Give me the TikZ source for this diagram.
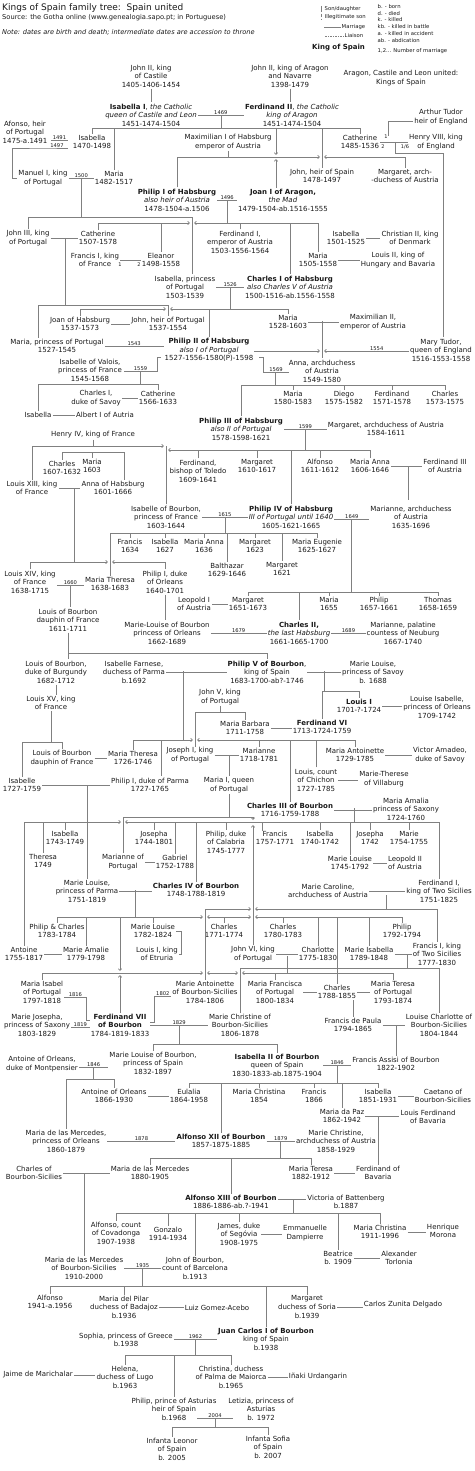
\documentclass[tikz,border=0pt]{standalone}
\usepackage{fontspec}
\setmainfont{DejaVu Sans}
\usetikzlibrary{arrows.meta}

\tikzset{
  ln/.style={draw=black!50, line width=0.7pt},
  xr/.style={ln, -{Straight Barb[length=1.8pt,width=3.4pt]}},
  bx/.style={ln, {Straight Barb[length=1.8pt,width=3.4pt]}-{Straight Barb[length=1.8pt,width=3.4pt]}},
  yr/.style={font=\fontsize{5.2}{6}\selectfont, inner sep=0.4pt, above},
  nr/.style={font=\fontsize{5}{6}\selectfont, inner sep=0pt},
  lg/.style={font=\fontsize{5.3}{6}\selectfont, anchor=west, inner sep=0.5pt},
}

\begin{document}
\begin{tikzpicture}[x=1pt, y=-1pt,
    every node/.style={font=\fontsize{7}{8.6}\selectfont, align=center, inner sep=1pt, text=black!90}]
  \useasboundingbox (0,0) rectangle (474,1471);

  % --- header and legend ---
  \node[anchor=west, font=\fontsize{9}{10}\selectfont] (title) at (1,8) {Kings of Spain family tree:\ \ Spain united};
  \node[anchor=west, font=\fontsize{6.7}{8}\selectfont] (source) at (1,18) {Source: the Gotha online (www.genealogia.sapo.pt; in Portuguese)};
  \node[anchor=west, font=\fontsize{6.6}{8}\selectfont\itshape] (note) at (1,32) {Note: dates are birth and death; intermediate dates are accession to throne};
  \node[lg] (lson) at (324,9) {Son/daughter};
  \draw[ln] (321,6) -- (321,12);
  \node[lg] (lill) at (324,17) {Illegitimate son};
  \draw[ln, densely dashed] (321,14) -- (321,20);
  \node[lg] (lmar) at (341,27) {Marriage};
  \draw[ln] (lmar.west) -- ++(-17,0);
  \node[lg] (llia) at (344,36) {Liaison};
  \draw[ln, dash pattern=on 1.5pt off 1pt] (llia.west) -- ++(-20,0);
  \node[anchor=west, font=\fontsize{7}{8}\selectfont\bfseries] (lking) at (311,48) {King of Spain};
  \node[lg] (ab1) at (377,7) {b. - born};
  \node[lg] (ab2) at (377,14) {d. - died};
  \node[lg] (ab3) at (377,20) {k. - killed};
  \node[lg] (ab4) at (377,27) {kb. - killed in battle};
  \node[lg] (ab5) at (377,34) {a. - killed in accident};
  \node[lg] (ab6) at (377,41) {ab. - abdication};
  \node[lg] (ab7) at (377,51) {1,2... Number of marriage};

  % --- people ---
  \node (jc) at (151,76) {John II, king\\of Castile\\1405-1406-1454};
  \node (ja) at (290,76) {John II, king of Aragon\\and Navarre\\1398-1479};
  \node (united) at (401,78) {Aragon, Castile and Leon united:\\Kings of Spain};
  \node (isa1) at (151,115) {\textbf{Isabella I}, \textit{the Catholic}\\\textit{queen of Castile and Leon}\\1451-1474-1504};
  \node (fer2) at (292,115) {\textbf{Ferdinand II}, \textit{the Catholic}\\\textit{king of Aragon}\\1451-1474-1504};
  \node (arthur) at (441,117) {Arthur Tudor\\heir of England};
  \node (afonso) at (25,132) {Afonso, heir\\of Portugal\\1475-a.1491};
  \node (isab) at (92,142) {Isabella\\1470-1498};
  \node (maxi) at (228,142) {Maximilian I of Habsburg\\emperor of Austria};
  \node (cath) at (360,142) {Catherine\\1485-1536};
  \node (henry) at (436,142) {Henry VIII, king\\of England};
  \node (manuel) at (43,178) {Manuel I, king\\of Portugal};
  \node (mar) at (114,178) {Maria\\1482-1517};
  \node (johnsp) at (322,176) {John, heir of Spain\\1478-1497};
  \node (margA) at (405,176) {Margaret, arch-\\-duchess of Austria};
  \node (phil1) at (177,200) {\textbf{Philip I of Habsburg}\\\textit{also heir of Austria}\\1478-1504-a.1506};
  \node (joan1) at (283,200) {\textbf{Joan I of Aragon,}\\\textit{the Mad}\\1479-1504-ab.1516-1555};
  \node (john3) at (28,238) {John III, king\\of Portugal};
  \node (cat2) at (98,238) {Catherine\\1507-1578};
  \node (ferd1) at (240,242) {Ferdinand I,\\emperor of Austria\\1503-1556-1564};
  \node (isab2) at (346,238) {Isabella\\1501-1525};
  \node (chris2) at (410,238) {Christian II, king\\of Denmark};
  \node (franc1) at (95,260) {Francis I, king\\of France};
  \node (elea) at (161,260) {Eleanor\\1498-1558};
  \node (maria3) at (318,260) {Maria\\1505-1558};
  \node (louis2) at (398,260) {Louis II, king of\\Hungary and Bavaria};
  \node (isapor) at (185,287) {Isabella, princess\\of Portugal\\1503-1539};
  \node (char1) at (290,287) {\textbf{Charles I of Habsburg}\\\textit{also Charles V of Austria}\\1500-1516-ab.1556-1558};
  \node (joanh) at (80,324) {Joan of Habsburg\\1537-1573};
  \node (johnpo) at (168,324) {John, heir of Portugal\\1537-1554};
  \node (maria4) at (288,322) {Maria\\1528-1603};
  \node (maxi2) at (373,322) {Maximilian II,\\emperor of Austria};
  \node (mariapo) at (57,346) {Maria, princess of Portugal\\1527-1545};
  \node (phil2) at (209,350) {\textbf{Philip II of Habsburg}\\\textit{also I of Portugal}\\1527-1556-1580(P)-1598};
  \node (mary) at (441,350) {Mary Tudor,\\queen of England\\1516-1553-1558};
  \node (isavalo) at (90,370) {Isabelle of Valois,\\princess of France\\1545-1568};
  \node (anna) at (322,371) {Anna, archduchess\\of Austria\\1549-1580};
  \node (char1s) at (96,398) {Charles I,\\duke of Savoy};
  \node (cath3) at (158,398) {Catherine\\1566-1633};
  \node (mariaA) at (293,398) {Maria\\1580-1583};
  \node (diego) at (344,398) {Diego\\1575-1582};
  \node (ferdA) at (392,398) {Ferdinand\\1571-1578};
  \node (charA) at (445,398) {Charles\\1573-1575};
  \node (isab3) at (38,415) {Isabella};
  \node (albert) at (105,415) {Albert I of Autria};
  \node (phil3) at (241,429) {\textbf{Philip III of Habsburg}\\\textit{also II of Portugal}\\1578-1598-1621};
  \node (margar) at (386,429) {Margaret, archduchess of Austria\\1584-1611};
  \node (henry4) at (93,435) {Henry IV, king of France};
  \node (charB) at (62,468) {Charles\\1607-1632};
  \node (mariaB) at (92,466) {Maria\\1603};
  \node (ferdbi) at (198,471) {Ferdinand,\\bishop of Toledo\\1609-1641};
  \node (margB) at (257,466) {Margaret\\1610-1617};
  \node (alfonB) at (320,466) {Alfonso\\1611-1612};
  \node (manna) at (370,466) {Maria Anna\\1606-1646};
  \node (ferd3) at (445,466) {Ferdinand III\\of Austria};
  \node (louis13) at (32,488) {Louis XIII, king\\of France};
  \node (annah) at (113,488) {Anna of Habsburg\\1601-1666};
  \node (isabo) at (166,517) {Isabelle of Bourbon,\\princess of France\\1603-1644};
  \node (phil4) at (291,517) {\textbf{Philip IV of Habsburg}\\\textit{III of Portugal until 1640}\\1605-1621-1665};
  \node (marianne) at (411,517) {Marianne, archduchess\\of Austria\\1635-1696};
  \node (francC) at (130,546) {Francis\\1634};
  \node (isabC) at (165,546) {Isabella\\1627};
  \node (mannaC) at (204,546) {Maria Anna\\1636};
  \node (margC) at (255,546) {Margaret\\1623};
  \node (meug) at (317,546) {Maria Eugenie\\1625-1627};
  \node (balth) at (227,570) {Balthazar\\1629-1646};
  \node (margD) at (282,569) {Margaret\\1621};
  \node (louis14) at (30,582) {Louis XIV, king\\of France\\1638-1715};
  \node (mther) at (110,584) {Maria Theresa\\1638-1683};
  \node (philorl) at (165,582) {Philip I, duke\\of Orleans\\1640-1701};
  \node (leop) at (194,604) {Leopold I\\of Austria};
  \node (margE) at (248,604) {Margaret\\1651-1673};
  \node (mariaE) at (329,604) {Maria\\1655};
  \node (philE) at (379,604) {Philip\\1657-1661};
  \node (thomas) at (438,604) {Thomas\\1658-1659};
  \node (louisd) at (68,620) {Louis of Bourbon\\dauphin of France\\1611-1711};
  \node (mlorl) at (167,633) {Marie-Louise of Bourbon\\princess of Orleans\\1662-1689};
  \node (char2) at (299,633) {\textbf{Charles II,}\\\textit{the last Habsburg}\\1661-1665-1700};
  \node (mpal) at (403,633) {Marianne, palatine\\countess of Neuburg\\1667-1740};
  \node (louisbu) at (56,672) {Louis of Bourbon,\\duke of Burgundy\\1682-1712};
  \node (farnese) at (134,672) {Isabelle Farnese,\\duchess of Parma\\b.1692};
  \node (phil5) at (267,672) {\textbf{Philip V of Bourbon},\\king of Spain\\1683-1700-ab?-1746};
  \node (mlsav) at (373,672) {Marie Louise,\\princess of Savoy\\b. 1688};
  \node (louis15) at (51,703) {Louis XV, king\\of France};
  \node (john5) at (220,697) {John V, king\\of Portugal};
  \node (louis1) at (359,706) {\textbf{Louis I}\\1701-?-1724};
  \node (lisab) at (437,707) {Louise Isabelle,\\princess of Orleans\\1709-1742};
  \node (mbarb) at (245,728) {Maria Barbara\\1711-1758};
  \node (ferd6) at (322,727) {\textbf{Ferdinand VI}\\1713-1724-1759};
  \node (joseph1) at (190,755) {Joseph I, king\\of Portugal};
  \node (marianB) at (259,755) {Marianne\\1718-1781};
  \node (mantoi) at (355,755) {Maria Antoinette\\1729-1785};
  \node (victor) at (440,755) {Victor Amadeo,\\duke of Savoy};
  \node (louisdB) at (62,758) {Louis of Bourbon\\dauphin of France};
  \node (mtherB) at (133,758) {Maria Theresa\\1726-1746};
  \node (isabelle) at (22,785) {Isabelle\\1727-1759};
  \node (philpar) at (150,785) {Philip I, duke of Parma\\1727-1765};
  \node (maria1) at (229,785) {Maria I, queen\\of Portugal};
  \node (louiscc) at (316,780) {Louis, count\\of Chichon\\1727-1785};
  \node (mtvil) at (384,779) {Marie-Therese\\of Villaburg};
  \node (char3) at (290,810) {\textbf{Charles III of Bourbon}\\1716-1759-1788};
  \node (mamal) at (406,809) {Maria Amalia\\princess of Saxony\\1724-1760};
  \node (isabD) at (65,838) {Isabella\\1743-1749};
  \node (josD) at (154,838) {Josepha\\1744-1801};
  \node (philcal) at (226,842) {Philip, duke\\of Calabria\\1745-1777};
  \node (francD) at (275,838) {Francis\\1757-1771};
  \node (isabE) at (320,838) {Isabella\\1740-1742};
  \node (josE) at (370,838) {Josepha\\1742};
  \node (marieE) at (409,838) {Marie\\1754-1755};
  \node (theresa) at (43,861) {Theresa\\1749};
  \node (mportu) at (123,862) {Marianne of\\Portugal};
  \node (gabriel) at (175,862) {Gabriel\\1752-1788};
  \node (mlouE) at (350,863) {Marie Louise\\1745-1792};
  \node (leop2) at (405,863) {Leopold II\\of Austria};
  \node (mlparma) at (87,891) {Marie Louise,\\princess of Parma\\1751-1819};
  \node (char4) at (196,890) {\textbf{Charles IV of Bourbon}\\1748-1788-1819};
  \node (mcaro) at (328,891) {Marie Caroline,\\archduchess of Austria};
  \node (ferd1s) at (439,891) {Ferdinand I,\\king of Two Sicilies\\1751-1825};
  \node (philch) at (57,931) {Philip \& Charles\\1783-1784};
  \node (mlouF) at (153,931) {Marie Louise\\1782-1824};
  \node (charF) at (224,931) {Charles\\1771-1774};
  \node (charG) at (283,931) {Charles\\1780-1783};
  \node (philF) at (402,931) {Philip\\1792-1794};
  \node (antoine) at (24,954) {Antoine\\1755-1817};
  \node (mamalie) at (86,954) {Marie Amalie\\1779-1798};
  \node (louisetr) at (157,954) {Louis I, king\\of Etruria};
  \node (john6) at (253,954) {John VI, king\\of Portugal};
  \node (charlotte) at (318,954) {Charlotte\\1775-1830};
  \node (misab) at (369,954) {Marie Isabella\\1789-1848};
  \node (franc1s) at (437,954) {Francis I, king\\of Two Sicilies\\1777-1830};
  \node (mispor) at (42,992) {Maria Isabel\\of Portugal\\1797-1818};
  \node (mantB) at (205,992) {Marie Antoinette\\of Bourbon-Sicilies\\1784-1806};
  \node (mfranc) at (275,992) {Maria Francisca\\of Portugal\\1800-1834};
  \node (charH) at (337,992) {Charles\\1788-1855};
  \node (mterpo) at (393,992) {Maria Teresa\\of Portugal\\1793-1874};
  \node (mjos) at (37,1025) {Marie Josepha,\\princess of Saxony\\1803-1829};
  \node (ferd7) at (120,1025) {\textbf{Ferdinand VII}\\\textbf{of Bourbon}\\1784-1819-1833};
  \node (mchris) at (240,1025) {Marie Christine of\\Bourbon-Sicilies\\1806-1878};
  \node (fdpaula) at (353,1025) {Francis de Paula\\1794-1865};
  \node (lcharl) at (439,1025) {Louise Charlotte of\\Bourbon-Sicilies\\1804-1844};
  \node (antorl) at (42,1064) {Antoine of Orleans,\\duke of Montpensier};
  \node (mlouG) at (153,1063) {Marie Louise of Bourbon,\\princess of Spain\\1832-1897};
  \node (isa2) at (277,1065) {\textbf{Isabella II of Bourbon}\\queen of Spain\\1830-1833-ab.1875-1904};
  \node (fassisi) at (396,1064) {Francis Assisi of Bourbon\\1822-1902};
  \node (antorl2) at (114,1096) {Antoine of Orleans\\1866-1930};
  \node (eulalia) at (189,1096) {Eulalia\\1864-1958};
  \node (mchrisG) at (259,1096) {Maria Christina\\1854};
  \node (francG) at (314,1096) {Francis\\1866};
  \node (isabG) at (378,1096) {Isabella\\1851-1931};
  \node (caetano) at (443,1096) {Caetano of\\Bourbon-Sicilies};
  \node (mpaz) at (342,1116) {Maria da Paz\\1862-1942};
  \node (lferd) at (428,1117) {Louis Ferdinand\\of Bavaria};
  \node (mmorl) at (66,1141) {Maria de las Mercedes,\\princess of Orleans\\1860-1879};
  \node (alf12) at (221,1141) {\textbf{Alfonso XII of Bourbon}\\1857-1875-1885};
  \node (mchrisA) at (336,1141) {Marie Christine,\\archduchess of Austria\\1858-1929};
  \node (charbs) at (34,1173) {Charles of\\Bourbon-Sicilies};
  \node (mmer) at (150,1173) {Maria de las Mercedes\\1880-1905};
  \node (mterH) at (311,1173) {Maria Teresa\\1882-1912};
  \node (ferdbav) at (378,1173) {Ferdinand of\\Bavaria};
  \node (alf13) at (231,1202) {\textbf{Alfonso XIII of Bourbon}\\1886-1886-ab.?-1941};
  \node (victoria) at (346,1202) {Victoria of Battenberg\\b.1887};
  \node (alfcov) at (116,1233) {Alfonso, count\\of Covadonga\\1907-1938};
  \node (gonzalo) at (168,1234) {Gonzalo\\1914-1934};
  \node (james) at (239,1234) {James, duke\\of Segóvia\\1908-1975};
  \node (emman) at (305,1233) {Emmanuelle\\Dampierre};
  \node (mchrisI) at (380,1232) {Maria Christina\\1911-1996};
  \node (henrique) at (443,1231) {Henrique\\Morona};
  \node (beatrice) at (338,1258) {Beatrice\\b. 1909};
  \node (alex) at (399,1258) {Alexander\\Torlonia};
  \node (mmerbs) at (84,1268) {Maria de las Mercedes\\of Bourbon-Sicilies\\1910-2000};
  \node (johnb) at (195,1268) {John of Bourbon,\\count of Barcelona\\b.1913};
  \node (alfJ) at (50,1302) {Alfonso\\1941-a.1956};
  \node (mpilar) at (124,1307) {Maria del Pilar\\duchess of Badajoz\\b.1936};
  \node (luiz) at (217,1308) {Luiz Gomez-Acebo};
  \node (margJ) at (307,1307) {Margaret\\duchess of Soria\\b.1939};
  \node (carlos) at (403,1305) {Carlos Zunita Delgado};
  \node (jcarlos) at (266,1339) {\textbf{Juan Carlos I of Bourbon}\\king of Spain\\b.1938};
  \node (sophia) at (126,1340) {Sophia, princess of Greece\\b.1938};
  \node (helena) at (125,1377) {Helena,\\duchess of Lugo\\b.1963};
  \node (jaime) at (38,1375) {Jaime de Marichalar};
  \node (christina) at (231,1377) {Christina, duchess\\of Palma de Maiorca\\b.1965};
  \node (inaki) at (318,1376) {Iñaki Urdangarin};
  \node (philast) at (174,1409) {Philip, prince of Asturias\\heir of Spain\\b.1968};
  \node (letizia) at (261,1409) {Letizia, princess of\\Asturias\\b. 1972};
  \node (leonor) at (172,1449) {Infanta Leonor\\of Spain\\b. 2005};
  \node (sofia) at (268,1447) {Infanta Sofia\\of Spain\\b. 2007};

  % --- Isabella I and Ferdinand II ---
  \draw[ln] (jc.south) -- (jc.south |- isa1.north);
  \draw[ln] (ja.south) -- (ja.south |- fer2.north);
  \draw[ln] (isa1.east) -- node[yr](y1469){1469} (isa1.east -| fer2.west);
  \coordinate (bA) at (0,128);
  \draw[ln] (y1469.south) -- (y1469.south |- bA);
  \draw[ln] (isab.north |- bA) -- (cath.north |- bA);
  \foreach \c in {isab,mar,johnsp,cath} \draw[ln] (\c.north) -- (\c.north |- bA);
  \draw[xr] (276,128) -- (276,155);
  \draw[xr] (276,188) -- (276,159);
  % Maximilian
  \coordinate (bM) at (0,157);
  \draw[ln] (maxi.south) -- (maxi.south |- bM);
  \draw[xr] (phil1.north |- bM) -- (320,157);
  \draw[xr] (margA.north |- bM) -- (324,157);
  \foreach \c in {phil1,margA} \draw[ln] (\c.north) -- (\c.north |- bM);
  % Tudors
  \draw[ln] ([yshift=-4pt]arthur.west) -| (388,136);
  \node[nr] (n1a) at (386,137) {1};
  \draw[ln] (cath.east) -- (cath.east -| henry.west);
  \node[nr] (n2a) at (383,147) {2};
  \node[nr] (n16) at (405,147) {1/6};
  \coordinate (hx) at (443,153);
  \draw[ln] (395,142) |- (hx) -- (hx |- mary.north);
  % Portugal
  \draw[ln] (51,140) -- node[yr]{1491} (68,140);
  \draw[ln] (68,148) -- node[yr]{1497} (46,148) -- (12,148) |- (manuel.west);
  \draw[ln] (manuel.east) -- node[yr](y1500){1500} (manuel.east -| mar.west);
  \coordinate (bMa) at (0,217);
  \coordinate (ip) at (192,217);
  \draw[ln] (y1500.south) -- (y1500.south |- bMa);
  \draw[ln] (john3.north |- bMa) -- (ip) -- (ip |- isapor.north);
  \draw[ln] (john3.north) -- (john3.north |- bMa);
  % Philip I and Joan
  \draw[ln] (phil1.east) -- node[yr](y1496){1496} (phil1.east -| joan1.west);
  \coordinate (bP) at (0,223);
  \draw[ln] (y1496.south) -- (y1496.south |- bP);
  \draw[xr] (cat2.north |- bP) -- (190,223);
  \draw[xr] (maria3.north |- bP) -- (194,223);
  \foreach \c in {cat2,elea,ferd1,char1,maria3} \draw[ln] (\c.north) -- (\c.north |- bP);
  \draw[ln] (john3.east) -- (john3.east -| cat2.west);
  \draw[ln] (65,238) -- (65,305) -- (38,305) -- (38,338);
  \draw[ln] (65,305) -- (168,305) -- (johnpo.north);
  \draw[ln] (franc1.east) -- (franc1.east -| elea.west);
  \node[nr] (n1b) at (120,265) {1};
  \node[nr] (n2b) at (139,265) {2};
  \draw[ln] (isab2.east) -- (isab2.east -| chris2.west);
  \draw[ln] (maria3.east) -- (maria3.east -| louis2.west);
  % Charles I
  \draw[ln] (isapor.east) -- node[yr](y1526){1526} (isapor.east -| char1.west);
  \coordinate (bC) at (0,309);
  \draw[ln] (y1526.south) -- (y1526.south |- bC);
  \draw[xr] (joanh.north |- bC) -- (166,309);
  \draw[xr] (maria4.north |- bC) -- (170,309);
  \foreach \c in {joanh,phil2,maria4} \draw[ln] (\c.north) -- (\c.north |- bC);
  \draw[ln] (joanh.east) -- (joanh.east -| johnpo.west);
  \draw[ln] (maria4.east) -- (maria4.east -| maxi2.west);
  \coordinate (mx) at (322,321);
  \draw[ln] (mx) -- (mx |- anna.north);
  % Philip II
  \draw[ln] (mariapo.east) -- node[yr]{1543} (mariapo.east -| phil2.west);
  \draw[xr] ([yshift=-1pt]phil2.east) -- (320,351);
  \draw[xr] ([yshift=-1pt]mary.west) -- node[yr, pos=0.38]{1554} (324,351);
  \draw[ln] (161,357) -| (157,371) -- node[yr]{1559} (124,371);
  \draw[ln] (259,357) -| (263,372) -- node[yr]{1569} (289,372);
  \coordinate (bV) at (0,384);
  \draw[ln] (140,371) -- (140,384);
  \draw[ln] (isab3.north |- bV) -- (cath3.north |- bV);
  \foreach \c in {isab3,cath3} \draw[ln] (\c.north) -- (\c.north |- bV);
  \draw[ln] (char1s.east) -- (char1s.east -| cath3.west);
  \draw[ln] (isab3) -- (albert);
  \coordinate (bN) at (0,385);
  \draw[ln] (275,372) -- (275,385);
  \draw[ln] (phil3.north |- bN) -- (charA.north |- bN);
  \foreach \c in {phil3,mariaA,diego,ferdA,charA} \draw[ln] (\c.north) -- (\c.north |- bN);
  % Philip III
  \draw[ln] (phil3.east) -- node[yr](y1599){1599} (phil3.east -| margar.west);
  \coordinate (bT) at (0,450);
  \draw[ln] (y1599.south) -- (y1599.south |- bT);
  \draw[xr] (manna.north |- bT) -- (168,450);
  \foreach \c in {ferdbi,margB,phil4,alfonB,manna} \draw[ln] (\c.north) -- (\c.north |- bT);
  \coordinate (bH) at (0,446);
  \draw[ln] (henry4.south) -- (henry4.south |- bH);
  \draw[xr] (louis13.north |- bH) -- (164,446);
  \draw[ln] (louis13.north) -- (louis13.north |- bH);
  \draw[ln] (isabo.north) -- (isabo.north |- bH);
  \coordinate (bT2) at (0,452);
  \draw[ln] (charB.north |- bT2) -- (124,452) -- (124,480);
  \foreach \c in {charB,mariaB} \draw[ln] (\c.north) -- (\c.north |- bT2);
  \draw[ln] (manna.east) -- (manna.east -| ferd3.west);
  \draw[ln] (408,466) -- (408,500);
  % Philip IV
  \draw[ln] (louis13.east) -- (louis13.east -| annah.west);
  \draw[ln] (74,488) -- (74,562);
  \coordinate (bL) at (0,562);
  \draw[xr] (louis14.north |- bL) -- (108,562);
  \draw[xr] (philorl.north |- bL) -- (112,562);
  \foreach \c in {louis14,philorl} \draw[ln] (\c.north) -- (\c.north |- bL);
  \draw[ln] (isabo.east) -- node[yr](y1615){1615} (isabo.east -| phil4.west);
  \coordinate (bF) at (0,533);
  \draw[ln] (y1615.south) -- (y1615.south |- bF);
  \draw[ln] (mther.north |- bF) -- (meug.north |- bF);
  \foreach \c in {mther,francC,isabC,mannaC,balth,margC,margD,meug} \draw[ln] (\c.north) -- (\c.north |- bF);
  \draw[ln] ([yshift=-2pt]phil4.east) -- node[yr](y1649){1649} ([yshift=-2pt]phil4.east -| marianne.west);
  \coordinate (bG) at (0,592);
  \draw[ln] (y1649.south) -- (y1649.south |- bG);
  \draw[ln] (margE.north |- bG) -- (thomas.north |- bG);
  \foreach \c in {margE,char2,mariaE,philE,thomas} \draw[ln] (\c.north) -- (\c.north |- bG);
  \draw[ln] (leop) -- (margE);
  \draw[ln] ([yshift=-3pt]louis14.east) -- node[yr](y1660){1660} ([yshift=-3pt]louis14.east -| mther.west);
  \draw[ln] (y1660.south) -- (y1660.south |- louisd.north);
  \draw[ln] (philorl.south) -- (philorl.south |- mlorl.north);
  \draw[ln] (mlorl.east) -- node[yr]{1679} (mlorl.east -| char2.west);
  \draw[ln] (char2.east) -- node[yr]{1689} (char2.east -| mpal.west);
  % Bourbons
  \coordinate (bD) at (0,653);
  \draw[ln] (louisd.south) -- (louisd.south |- louisbu.north);
  \draw[ln] (louisd.south |- bD) -- (phil5.north |- bD) -- (phil5.north);
  \draw[ln] (louisbu.south) -- (louisbu.south |- louis15.north);
  \coordinate (bX) at (0,742);
  \draw[ln] (louis15.south) -- (louis15.south |- bX);
  \draw[ln] (isabelle.north |- bX) -- (louisdB.north |- bX);
  \foreach \c in {isabelle,louisdB} \draw[ln] (\c.north) -- (\c.north |- bX);
  \draw[ln] (farnese.east) -- (farnese.east -| phil5.west);
  \draw[ln] (183,671) -- (183,740);
  \coordinate (bV5) at (0,740);
  \draw[xr] (mtherB.north |- bV5) -- (193,740);
  \draw[xr] (mantoi.north |- bV5) -- (197,740);
  \foreach \c in {mtherB,marianB,char3,louiscc,mantoi} \draw[ln] (\c.north) -- (\c.north |- bV5);
  \draw[ln] (161,740) -- (161,776);
  \draw[ln] (phil5.east) -- (phil5.east -| mlsav.west);
  \draw[ln] (324,671) -- (324,691);
  \coordinate (bS) at (0,691);
  \draw[ln] (ferd6.north |- bS) -- (louis1.north |- bS);
  \foreach \c in {ferd6,louis1} \draw[ln] (\c.north) -- (\c.north |- bS);
  \draw[ln] (louis1.east) -- (louis1.east -| lisab.west);
  \coordinate (bJ5) at (0,712);
  \draw[ln] (john5.south) -- (john5.south |- bJ5);
  \draw[ln] (195,747) -- (195,712) -- (mbarb.north |- bJ5) -- (mbarb.north);
  \draw[ln] (mbarb.east) -- (mbarb.east -| ferd6.west);
  \draw[ln] (joseph1.east) -- (joseph1.east -| marianB.west);
  \draw[ln] (maria1.north) -- (maria1.north |- joseph1.east);
  \draw[ln] (mantoi.east) -- (mantoi.east -| victor.west);
  \draw[ln] (louisdB.east) -- (louisdB.east -| mtherB.west);
  \draw[ln] (isabelle.east) -- (isabelle.east -| philpar.west);
  \draw[ln] (mlparma.north |- isabelle.east) -- (mlparma.north);
  \draw[ln] (louiscc.east) -- (louiscc.east -| mtvil.west);
  % Charles III
  \coordinate (bQ) at (0,817);
  \draw[ln] (maria1.south) -- (maria1.south |- bQ);
  \draw[ln] (mportu.north) -- (mportu.north |- bQ) -- (john6.north |- bQ);
  \draw[xr] (john6.north |- bQ) -- ++(0,3);
  \draw[xr] (john6.north) -- (253,825);
  \draw[ln] (char3.east) -- (char3.east -| mamal.west);
  \draw[ln] (354,808) -- (354,822);
  \coordinate (bK) at (0,822);
  \draw[xr] (antoine.north |- bK) -- (121,822);
  \draw[xr] (ferd1s.north |- bK) -- (125,822);
  \foreach \c in {antoine,theresa,isabD,josD,gabriel,char4,philcal,isabE,mlouE,josE,marieE,ferd1s} \draw[ln] (\c.north) -- (\c.north |- bK);
  \draw[ln] (262,822) -- (262,831);
  \draw[ln] (mportu.east) -- (mportu.east -| gabriel.west);
  \draw[ln] (mlouE.east) -- (mlouE.east -| leop2.west);
  % Charles IV
  \draw[ln] (mlparma.east) -- (mlparma.east -| char4.west);
  \draw[ln] (135,890) -- (135,917);
  \coordinate (bB) at (0,917);
  \draw[xr] (philch.north |- bB) -- (203,917);
  \draw[bx] (207,917) -- (251,917);
  \draw[xr] (philF.north |- bB) -- (255,917);
  \foreach \c in {philch,mamalie,mlouF,charF,charG,charlotte,charH,misab,philF} \draw[ln] (\c.north) -- (\c.north |- bB);
  \draw[xr] (120,917) -- (120,971);
  \draw[xr] (ferd7.north) -- (120,975);
  \draw[ln] (fdpaula.north) -- (fdpaula.north |- charH.south);
  \draw[ln] (mcaro.east) -- (mcaro.east -| ferd1s.west);
  \draw[ln] (386,895) -- (386,909);
  \coordinate (bE) at (0,909);
  \draw[xr] (mantB.north |- bE) -- (251,909);
  \draw[xr] (franc1s.north |- bE) -- (255,909);
  \foreach \c in {mantB,franc1s} \draw[ln] (\c.north) -- (\c.north |- bE);
  \draw[ln] (antoine.east) -- (antoine.east -| mamalie.west);
  \draw[ln] (mlouF.east) -- ++(5,0) |- (louisetr.east);
  \draw[ln] (john6.east) -- (john6.east -| charlotte.west);
  \draw[ln] (287,956) -- (287,973);
  \coordinate (bR) at (0,973);
  \draw[xr] (mispor.north |- bR) -- (203,973);
  \draw[bx] (207,973) -- (238,973);
  \draw[xr] (mterpo.north |- bR) -- (242,973);
  \foreach \c in {mispor,mfranc,mterpo} \draw[ln] (\c.north) -- (\c.north |- bR);
  \draw[ln] (misab.east) -- (misab.east -| franc1s.west);
  \draw[ln] (407,955) -- (407,968);
  \coordinate (bW) at (0,968);
  \draw[ln] (mchris.north |- bW) -- (lcharl.north |- bW);
  \foreach \c in {mchris,lcharl} \draw[ln] (\c.north) -- (\c.north |- bW);
  % Ferdinand VII
  \draw[ln] ([yshift=-5pt]mispor.east) -- node[yr]{1816} ++(22,0) |- ([yshift=5pt]ferd7.west);
  \draw[ln] ([yshift=-2pt]mjos.east) -- node[yr]{1819} ([yshift=-2pt]mjos.east -| ferd7.west);
  \draw[ln] ([yshift=3pt]ferd7.east) -- ++(4,0) |- node[yr, pos=0.75]{1802} ([yshift=-4pt]mantB.west);
  \draw[ln] (mfranc.east) -- (mfranc.east -| charH.west);
  \draw[ln] (charH.east) -- (charH.east -| mterpo.west);
  \draw[ln] (ferd7.east) -- node[yr](y1829){1829} (ferd7.east -| mchris.west);
  \coordinate (bY) at (0,1044);
  \draw[ln] (y1829.south) -- (y1829.south |- bY);
  \draw[ln] (mlouG.north |- bY) -- (isa2.north |- bY);
  \foreach \c in {mlouG,isa2} \draw[ln] (\c.north) -- (\c.north |- bY);
  \draw[ln] (fdpaula.east) -- (fdpaula.east -| lcharl.west);
  \draw[ln] (fassisi.north |- fdpaula.east) -- (fassisi.north);
  % Isabella II
  \draw[ln] ([yshift=-3pt]antorl.east) -- node[yr](y1846a){1846} ([yshift=-3pt]antorl.east -| mlouG.west);
  \coordinate (bO) at (0,1079);
  \draw[ln] (y1846a.south) -- (y1846a.south |- bO);
  \draw[ln] (mmorl.north |- bO) -- (antorl2.north |- bO);
  \foreach \c in {mmorl,antorl2} \draw[ln] (\c.north) -- (\c.north |- bO);
  \draw[ln] (isa2.east) -- node[yr](y1846b){1846} (isa2.east -| fassisi.west);
  \coordinate (bI) at (0,1083);
  \draw[ln] (y1846b.south) -- (y1846b.south |- bI);
  \draw[ln] (eulalia.north |- bI) -- (isabG.north |- bI);
  \foreach \c in {eulalia,alf12,mchrisG,francG,mpaz,isabG} \draw[ln] (\c.north) -- (\c.north |- bI);
  \draw[ln] (antorl2.east) -- (antorl2.east -| eulalia.west);
  \draw[ln] (isabG.east) -- (isabG.east -| caetano.west);
  \draw[ln] (mpaz.east) -- (mpaz.east -| lferd.west);
  \draw[ln] (ferdbav.north |- mpaz.east) -- (ferdbav.north);
  % Alfonso XII and XIII
  \draw[ln] (mmorl.east) -- node[yr]{1878} (mmorl.east -| alf12.west);
  \draw[ln] (alf12.east) -- node[yr](y1879){1879} (alf12.east -| mchrisA.west);
  \coordinate (bZ) at (0,1158);
  \draw[ln] (y1879.south) -- (y1879.south |- bZ);
  \draw[ln] (mmer.north |- bZ) -- (mterH.north |- bZ);
  \foreach \c in {mmer,alf13,mterH} \draw[ln] (\c.north) -- (\c.north |- bZ);
  \draw[ln] (charbs.east) -- (charbs.east -| mmer.west);
  \draw[ln] (mmerbs.north |- charbs.east) -- (mmerbs.north);
  \draw[ln] (mterH) -- (ferdbav);
  \draw[ln] ([yshift=3pt]alf13.east) -- ([yshift=3pt]alf13.east -| victoria.west);
  \coordinate (bU) at (0,1213);
  \draw[ln] (293,1199) -- (293,1213);
  \draw[ln] (alfcov.north |- bU) -- (mchrisI.north |- bU);
  \foreach \c in {alfcov,gonzalo,johnb,james,beatrice,mchrisI} \draw[ln] (\c.north) -- (\c.north |- bU);
  \draw[ln] (james.east) -- (james.east -| emman.west);
  \draw[ln] (mchrisI.east) -- (mchrisI.east -| henrique.west);
  \draw[ln] (beatrice) -- (alex);
  % John of Bourbon and Juan Carlos
  \draw[ln] (mmerbs.east) -- node[yr](y1935){1935} (mmerbs.east -| johnb.west);
  \coordinate (bJC) at (0,1286);
  \draw[ln] (y1935.south) -- (y1935.south |- bJC);
  \draw[ln] (alfJ.north |- bJC) -- (margJ.north |- bJC);
  \foreach \c in {alfJ,mpilar,jcarlos,margJ} \draw[ln] (\c.north) -- (\c.north |- bJC);
  \draw[ln] (mpilar.east) -- (mpilar.east -| luiz.west);
  \draw[ln] (margJ.east) -- (margJ.east -| carlos.west);
  \draw[ln] ([yshift=1pt]sophia.east) -- node[yr](y1962){1962} ([yshift=1pt]sophia.east -| jcarlos.west);
  \coordinate (bSJ) at (0,1355);
  \draw[ln] (y1962.south) -- (y1962.south |- bSJ);
  \draw[ln] (helena.north |- bSJ) -- (christina.north |- bSJ);
  \foreach \c in {helena,philast,christina} \draw[ln] (\c.north) -- (\c.north |- bSJ);
  \draw[ln] (jaime.east) -- (jaime.east -| helena.west);
  \draw[ln] (christina.east) -- (christina.east -| inaki.west);
  \draw[ln] (197,1418) -- node[yr](y2004){2004} (233,1418);
  \coordinate (bLe) at (0,1427);
  \draw[ln] (y2004.south) -- (y2004.south |- bLe);
  \draw[ln] (leonor.north |- bLe) -- (sofia.north |- bLe);
  \foreach \c in {leonor,sofia} \draw[ln] (\c.north) -- (\c.north |- bLe);
\end{tikzpicture}
\end{document}
